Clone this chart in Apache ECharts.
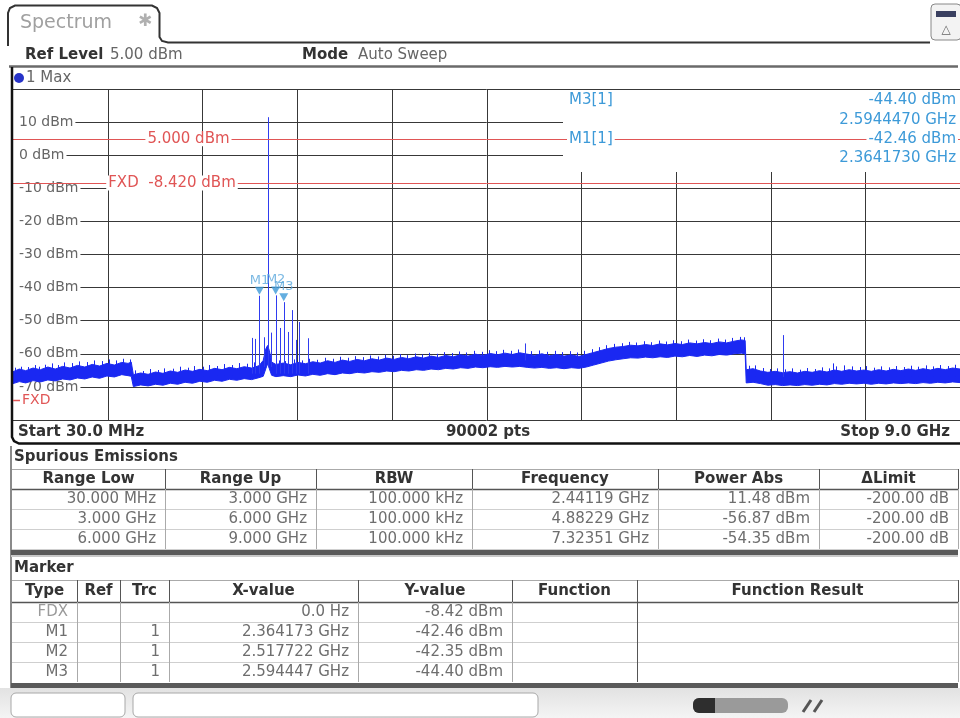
<!DOCTYPE html>
<html><head><meta charset="utf-8">
<script src="https://cdn.jsdelivr.net/npm/echarts@6/dist/echarts.min.js"></script>
<style>html,body{margin:0;padding:0;background:#fff}#c{width:960px;height:718px}</style>
</head><body><div id="c"></div>
<script>
// ---------------- DATA ----------------
const startMHz = 30, stopMHz = 9000, sweepPoints = 90002;
const refLevelDbm = 5.00;
const yTicksDbm = [10, 0, -10, -20, -30, -40, -50, -60, -70];
const limitLevels = [5.0, -8.42];
const limitLabels = ['5.000 dBm', 'FXD  -8.420 dBm'];

// trace noise envelope (MHz, dBm)
const noiseFreq = [30,90,150,220,290,360,430,500,570,640,710,780,850,920,990,1060,1120,1150,1170,1240,1310,1380,1450,1520,1590,1660,1730,1800,1870,1940,2010,2080,2150,2220,2290,2360,2400,2425,2441,2458,2480,2520,2590,2660,2730,2800,2870,2940,3010,3080,3150,3220,3290,3360,3430,3500,3570,3640,3710,3780,3850,3920,3990,4060,4130,4200,4270,4340,4410,4480,4550,4620,4690,4760,4830,4900,4970,5040,5110,5180,5250,5320,5390,5460,5530,5600,5670,5740,5810,5880,5950,6020,6090,6160,6230,6300,6370,6440,6510,6580,6650,6720,6790,6860,6930,6965,6975,7040,7110,7180,7250,7320,7390,7460,7530,7600,7670,7740,7810,7880,7950,8020,8090,8160,8230,8300,8370,8440,8510,8580,8650,8720,8790,8860,8930,9000];
const noiseTop = [-65.4,-64.6,-65.1,-64.3,-64.8,-64.0,-64.6,-63.8,-64.3,-63.5,-64.0,-63.2,-63.7,-62.9,-63.4,-62.6,-62.9,-62.5,-66.3,-65.8,-66.2,-65.5,-65.9,-65.2,-65.6,-64.9,-65.3,-64.7,-65.1,-64.4,-64.8,-64.1,-64.5,-63.9,-64.3,-63.6,-62.0,-58.5,-57.5,-59.0,-62.5,-63.2,-62.8,-63.3,-62.6,-63.0,-62.4,-62.8,-62.1,-62.6,-61.9,-62.3,-61.7,-62.1,-61.5,-61.9,-61.3,-61.7,-61.1,-61.5,-60.9,-61.3,-60.7,-61.1,-60.5,-60.9,-60.3,-60.7,-60.1,-60.5,-59.9,-60.3,-59.8,-60.2,-59.7,-60.1,-60.5,-60.0,-60.6,-60.2,-60.7,-60.3,-60.8,-60.2,-59.6,-59.0,-58.4,-58.0,-57.8,-57.4,-57.6,-57.2,-57.5,-57.0,-57.3,-56.9,-57.2,-56.7,-57.0,-56.6,-56.9,-56.4,-56.7,-56.2,-55.8,-56.0,-64.8,-64.5,-65.2,-65.6,-65.3,-65.7,-65.4,-65.8,-65.3,-65.6,-65.1,-65.5,-64.9,-65.3,-64.8,-65.2,-64.9,-65.3,-64.8,-65.2,-64.7,-65.1,-64.6,-65.0,-64.5,-64.9,-64.4,-64.8,-64.3,-64.6];
const noiseBottom = [-69.0,-68.4,-68.8,-68.1,-68.5,-67.9,-68.2,-67.6,-67.9,-67.3,-67.6,-67.0,-67.4,-66.7,-67.0,-66.3,-66.6,-66.8,-69.9,-69.4,-69.7,-69.2,-69.5,-68.9,-69.2,-68.6,-68.9,-68.3,-68.6,-68.0,-68.3,-67.7,-68.0,-67.5,-67.8,-67.2,-66.8,-64.5,-63.0,-64.5,-66.5,-66.9,-66.6,-66.9,-66.4,-66.7,-66.2,-66.5,-66.0,-66.3,-65.8,-66.0,-65.6,-65.8,-65.4,-65.6,-65.2,-65.4,-65.0,-65.2,-64.8,-65.0,-64.6,-64.8,-64.4,-64.6,-64.2,-64.4,-64.0,-64.2,-63.9,-64.1,-63.8,-64.0,-63.8,-64.1,-64.3,-64.1,-64.4,-64.2,-64.5,-64.2,-64.4,-64.0,-63.4,-62.8,-62.2,-61.8,-61.5,-61.2,-61.3,-61.0,-61.2,-60.9,-61.1,-60.7,-60.9,-60.5,-60.8,-60.4,-60.6,-60.2,-60.4,-60.0,-59.8,-60.0,-68.8,-68.6,-69.0,-69.5,-69.3,-69.6,-69.4,-69.6,-69.3,-69.5,-69.2,-69.4,-69.0,-69.2,-68.9,-69.1,-68.9,-69.2,-68.9,-69.1,-68.8,-69.0,-68.8,-69.0,-68.7,-68.9,-68.6,-68.8,-68.5,-68.7];

// small noise spikes on the trace (MHz, top dBm, base dBm)
const fuzzFreq = [45,105,175,240,275,330,395,455,515,590,655,735,800,870,935,1010,1075,1140,
  1190,1265,1330,1400,1465,1545,1610,1690,1745,1825,1890,1960,2030,2105,2170,2245,2315,
  2545,2610,2690,2765,2835,2905,2990,3060,3125,3205,3270,3345,3415,3490,3555,3625,3700,3765,3840,3905,3975,4045,4115,4190,4255,4325,4395,4470,4540,4605,4675,4745,4815,
  4940,5010,5090,5160,5230,5305,5375,5440,
  5510,5585,5650,5725,5795,5865,5935,6005,6075,6145,6215,6285,6355,6425,6495,6565,6635,6705,6775,6845,6915,6955,
  7000,7060,7135,7205,7270,7345,7410,7485,7550,7625,7690,7760,7800,7830,7900,7975,8050,8110,8185,8250,8325,8395,8465,8535,8605,8675,8745,8815,8885,8955];
const fuzzTop = [-64.2,-63.9,-64.0,-63.4,-63.9,-63.3,-62.9,-63.4,-62.6,-62.8,-62.3,-62.5,-62.0,-62.2,-61.7,-62.0,-61.5,-61.7,
  -65.0,-65.2,-64.6,-64.9,-64.4,-64.5,-63.9,-64.2,-63.7,-63.9,-63.4,-63.7,-63.1,-63.4,-62.8,-63.0,-62.6,
  -62.0,-62.2,-61.7,-62.0,-61.5,-61.8,-61.2,-61.5,-60.9,-61.2,-60.7,-61.0,-60.5,-60.8,-60.3,-60.6,-60.1,-60.4,-59.9,-60.2,-59.7,-60.0,-59.5,-59.8,-59.3,-59.6,-59.1,-59.4,-58.9,-59.2,-58.8,-59.1,-58.7,
  -59.2,-59.0,-59.4,-59.1,-59.5,-59.2,-59.6,-59.1,
  -58.6,-58.0,-57.4,-57.0,-56.8,-56.4,-56.6,-56.2,-56.5,-56.0,-56.3,-55.9,-56.2,-55.7,-56.0,-55.6,-55.9,-55.4,-55.7,-55.2,-54.9,-55.0,
  -63.6,-63.5,-64.3,-64.6,-64.4,-64.7,-64.4,-64.8,-64.3,-64.6,-64.1,-64.4,-62.9,-63.8,-63.5,-63.8,-64.0,-63.7,-64.2,-63.8,-64.1,-63.7,-64.0,-63.6,-63.9,-63.5,-63.8,-63.4,-63.7,-63.3];
const fuzzBase = [-67,-67,-67,-66.5,-66.5,-66.5,-66.5,-66,-66,-66,-66,-65.5,-65.5,-65.5,-65,-65,-65,-65,
  -68.5,-68.5,-68,-68,-68,-67.5,-67.5,-67.5,-67,-67,-67,-66.5,-66.5,-66.5,-66,-66,-66,
  -65.5,-65.5,-65,-65,-65,-65,-64.5,-64.5,-64.5,-64.5,-64,-64,-64,-64,-63.5,-63.5,-63.5,-63.5,-63,-63,-63,-63,-62.5,-62.5,-62.5,-62.5,-62.5,-62,-62,-62,-62,-62,-62,
  -62.5,-62.5,-62.5,-62.5,-62.5,-62.5,-62.5,-62.5,
  -62,-61.5,-61,-60.5,-60,-60,-59.5,-59.5,-59.5,-59.5,-59.5,-59,-59,-59,-59,-59,-59,-58.5,-58.5,-58.5,-58.5,-58.5,
  -67,-67,-67,-67,-67,-67,-67,-67,-67,-67,-67,-67,-67,-67,-67,-67,-67,-67,-67,-67,-67,-67,-67,-67,-67,-67,-67,-67,-67,-67];

// discrete spurs / carrier (MHz, top dBm, base dBm)
const spurLineFreq = [2293,2322,2364.173,2403,2441.19,2478,2517.722,2558,2594.447,2636,2674,2714,2743,2828,4882.29,7323.51];
const spurLineTop  = [-55.2,-55.5,-42.46,-55.0,11.48,-53.6,-42.35,-52.2,-44.40,-53.4,-46.8,-55.8,-50.4,-55.3,-56.87,-54.35];
const spurLineBase = [-66,-66,-66,-64,-64,-64,-66,-66,-66,-66,-66,-66,-66,-66,-62,-67];

// markers
const markerNames = ['M1','M2','M3'];
const markerFreq  = [2364.173, 2517.722, 2594.447];
const markerLevel = [-42.46, -42.35, -44.40];

// spurious emissions table
const spurHeader = ['Range Low','Range Up','RBW','Frequency','Power Abs','\u0394Limit'];
const spurRangeLow = ['30.000 MHz','3.000 GHz','6.000 GHz'];
const spurRangeUp  = ['3.000 GHz','6.000 GHz','9.000 GHz'];
const spurRBW      = ['100.000 kHz','100.000 kHz','100.000 kHz'];
const spurFrequency= ['2.44119 GHz','4.88229 GHz','7.32351 GHz'];
const spurPowerAbs = ['11.48 dBm','-56.87 dBm','-54.35 dBm'];
const spurDeltaLim = ['-200.00 dB','-200.00 dB','-200.00 dB'];

// marker table
const mkHeader = ['Type','Ref','Trc','X-value','Y-value','Function','Function Result'];
const mkType = ['FDX','M1','M2','M3'];
const mkRef  = ['','','',''];
const mkTrc  = ['','1','1','1'];
const mkX    = ['0.0 Hz','2.364173 GHz','2.517722 GHz','2.594447 GHz'];
const mkY    = ['-8.42 dBm','-42.46 dBm','-42.35 dBm','-44.40 dBm'];

// ---------------- RENDER ----------------
const FONT = '"DejaVu Sans", Verdana, sans-serif';
const BLUE = '#1a28f2';
const RED = '#e05555';
const MBLUE = '#3d9ad8';
const GRID = '#383838';

function T(x, y, text, o) {
  o = o || {};
  const st = {text: text, fill: o.fill || '#666', font: (o.bold ? 'bold ' : '') + (o.size || 15) + 'px ' + FONT,
    align: o.align || 'left', textAlign: o.align || 'left', verticalAlign: 'middle', textVerticalAlign: 'middle'};
  if (o.bg) { st.backgroundColor = o.bg; st.padding = o.pad || [0, 2]; }
  return {type: 'text', x: x, y: y, z: o.z || 10, silent: true, style: st};
}
function L(x1, y1, x2, y2, stroke, w, z) {
  return {type: 'line', z: z || 10, silent: true, shape: {x1: x1, y1: y1, x2: x2, y2: y2}, style: {stroke: stroke, lineWidth: w || 1}};
}
function R(x, y, w, h, fill, o) {
  o = o || {};
  return {type: 'rect', z: o.z || 9, silent: true, shape: {x: x, y: y, width: w, height: h, r: o.r || 0},
    style: {fill: fill, stroke: o.stroke || null, lineWidth: o.lw || 1}};
}

const g = [];
// header tab
g.push({type: 'polyline', z: 10, silent: true, shape: {points: [[8,46],[8,13],[10,8],[15,5.5],[152,5.5],[157,8],[159.5,13],[159.5,37],[162,41],[168,42.5],[930,42.5]]},
  style: {stroke: '#333', lineWidth: 2, fill: null}});
g.push(T(20, 23, 'Spectrum', {size: 19, fill: '#a0a0a0'}));
g.push(T(138, 22, '\u2731', {size: 17, fill: '#b0b0b0'}));
g.push(R(931, 4, 30, 36, '#f3f3f3', {stroke: '#888', r: 4, z: 10}));
g.push(R(936, 11, 20, 6, '#3a4060', {z: 11}));
g.push(T(946, 30, '\u25B3', {size: 12, fill: '#666', align: 'center', z: 11}));
g.push(T(25, 55, 'Ref Level', {bold: true, fill: '#333'}));
g.push(T(110, 55, refLevelDbm.toFixed(2) + ' dBm', {fill: '#666'}));
g.push(T(302, 55, 'Mode', {bold: true, fill: '#333'}));
g.push(T(358, 55, 'Auto Sweep', {fill: '#666'}));
g.push(L(9, 66.5, 958, 66.5, '#6a6a6a', 2.5));
g.push({type: 'circle', z: 10, silent: true, shape: {cx: 19, cy: 78, r: 5}, style: {fill: '#2733c8'}});
g.push(T(26, 78, '1 Max', {fill: '#666'}));
// plot frame
g.push({type: 'polyline', z: 10, silent: true, shape: {points: [[12,67],[12,437],[14,441],[19,443.5],[960,443.5]]},
  style: {stroke: '#111', lineWidth: 2.5, fill: null}});
g.push(T(18, 432, 'Start ' + startMHz.toFixed(1) + ' MHz', {bold: true, fill: '#333'}));
g.push(T(488, 432, String(sweepPoints) + ' pts', {bold: true, fill: '#333', align: 'center'}));
g.push(T(950, 432, 'Stop ' + (stopMHz / 1000).toFixed(1) + ' GHz', {bold: true, fill: '#333', align: 'right'}));
// FXD left marker
g.push(L(13, 400.5, 20, 400.5, RED, 1.5));
g.push(T(22, 400, 'FXD', {fill: RED, size: 14}));
// marker info box
g.push(R(563, 90, 397, 82, '#fff', {z: 1}));
g.push(T(567, 100, 'M3[1]', {fill: MBLUE, bg: '#fff'}));
g.push(T(958, 100, markerLevel[2].toFixed(2) + ' dBm', {fill: MBLUE, align: 'right', bg: '#fff'}));
g.push(T(958, 120, (markerFreq[2] / 1000).toFixed(7) + ' GHz', {fill: MBLUE, align: 'right', bg: '#fff'}));
g.push(T(567, 139, 'M1[1]', {fill: MBLUE, bg: '#fff'}));
g.push(T(958, 139, markerLevel[0].toFixed(2) + ' dBm', {fill: MBLUE, align: 'right', bg: '#fff'}));
g.push(T(958, 158, (markerFreq[0] / 1000).toFixed(7) + ' GHz', {fill: MBLUE, align: 'right', bg: '#fff'}));

// spurious table
g.push(L(11, 446, 11, 688, '#8a8a8a', 2));
g.push(T(14, 457, 'Spurious Emissions', {bold: true, fill: '#333'}));
const sc = [12, 165, 316, 472, 658, 819, 958];
const sHead = 469, sRow = 20;
g.push(L(12, sHead + 0.5, 958, sHead + 0.5, '#aaa', 1));
g.push(L(12, sHead + sRow + 0.5, 958, sHead + sRow + 0.5, '#555', 1.5));
for (let r = 1; r <= 3; r++) g.push(L(12, sHead + sRow * (r + 1) + 0.5, 958, sHead + sRow * (r + 1) + 0.5, '#cfcfcf', 1));
for (let c = 1; c < sc.length; c++) {
  g.push(L(sc[c] + 0.5, sHead, sc[c] + 0.5, sHead + sRow, '#555', 1));
  g.push(L(sc[c] + 0.5, sHead + sRow, sc[c] + 0.5, sHead + sRow * 4, '#aaa', 1));
}
spurHeader.forEach((h, c) => g.push(T((sc[c] + sc[c + 1]) / 2, sHead + 10.5, h, {bold: true, fill: '#333', align: 'center'})));
const spurCols = [spurRangeLow, spurRangeUp, spurRBW, spurFrequency, spurPowerAbs, spurDeltaLim];
spurCols.forEach((col, c) => col.forEach((v, r) => g.push(T(sc[c + 1] - 9, sHead + sRow * (r + 1) + 10.5, v, {fill: '#6e6e6e', align: 'right'}))));
g.push(R(11, 550, 947, 5, '#5a5a5a', {z: 10}));
g.push(R(11, 555, 947, 2, '#c8c8c8', {z: 10}));

// marker table
g.push(T(14, 568, 'Marker', {bold: true, fill: '#333'}));
const mc = [12, 77, 120, 169, 358, 512, 637, 958];
const mHead = 580, mRowH = 20;
g.push(L(12, mHead + 0.5, 958, mHead + 0.5, '#aaa', 1));
g.push(L(12, mHead + 22 + 0.5, 958, mHead + 22 + 0.5, '#555', 1.5));
for (let r = 1; r <= 3; r++) g.push(L(12, mHead + 22 + mRowH * r + 0.5, 958, mHead + 22 + mRowH * r + 0.5, '#cfcfcf', 1));
for (let c = 1; c < mc.length; c++) {
  g.push(L(mc[c] + 0.5, mHead, mc[c] + 0.5, mHead + 22, '#555', 1));
  g.push(L(mc[c] + 0.5, mHead + 22, mc[c] + 0.5, mHead + 22 + mRowH * 4, c === 6 ? '#555' : '#aaa', 1));
}
mkHeader.forEach((h, c) => g.push(T((mc[c] + mc[c + 1]) / 2, mHead + 11.5, h, {bold: true, fill: '#333', align: 'center'})));
const mkCols = [mkType, mkRef, mkTrc, mkX, mkY];
mkCols.forEach((col, c) => col.forEach((v, r) => { if (v) g.push(T(mc[c + 1] - 9, mHead + 22 + mRowH * r + 10.5, v, {fill: r === 0 && c === 0 ? '#9a9a9a' : '#6e6e6e', align: 'right'})); }));
g.push(R(11, 683, 947, 5, '#5a5a5a', {z: 10}));

// status bar
g.push({type: 'rect', z: 8, silent: true, shape: {x: 0, y: 688, width: 960, height: 30},
  style: {fill: new echarts.graphic.LinearGradient(0, 0, 0, 1, [{offset: 0, color: '#e2e2e2'}, {offset: 1, color: '#f4f4f4'}])}});
g.push(R(11, 693, 114, 24, '#fff', {stroke: '#a8a8a8', r: 5, z: 10}));
g.push(R(133, 693, 405, 24, '#fff', {stroke: '#a8a8a8', r: 5, z: 10}));
g.push(R(693, 698, 95, 15, '#9a9a9a', {r: 6, z: 10}));
g.push(R(693, 698, 22, 15, '#2e2e2e', {r: [6, 0, 0, 6], z: 11}));
g.push(L(803, 712, 811, 700, '#555', 3));
g.push(L(814, 712, 822, 700, '#555', 3));

const gridFreqs = [];
for (let i = 1; i < 10; i++) gridFreqs.push(startMHz + i * (stopMHz - startMHz) / 10);

const px = v => Math.round(v) + 0.5;

const option = {
  animation: false,
  backgroundColor: '#fff',
  grid: {left: 13, top: 89, width: 950, height: 331, containLabel: false},
  xAxis: {type: 'value', min: startMHz, max: stopMHz, axisLine: {show: false}, axisTick: {show: false},
    axisLabel: {show: false}, splitLine: {show: false}},
  yAxis: {type: 'value', min: -80, max: 20, interval: 10,
    axisLine: {show: false}, axisTick: {show: false},
    axisLabel: {inside: true, margin: 0, showMinLabel: false, showMaxLabel: false,
      formatter: v => yTicksDbm.indexOf(v) >= 0 ? v + ' dBm' : '',
      color: '#666', fontSize: 14, fontFamily: FONT, backgroundColor: '#fff', padding: [1, 2, 1, 6]},
    splitLine: {show: true, lineStyle: {color: GRID, width: 1}}},
  graphic: {elements: g},
  series: [
    { // vertical grid
      type: 'custom', z: 0, silent: true, data: gridFreqs.map(f => [f, 20]),
      renderItem: (p, api) => {
        const a = api.coord([api.value(0), 20]), b = api.coord([api.value(0), -80]);
        return {type: 'line', shape: {x1: px(a[0]), y1: a[1], x2: px(b[0]), y2: b[1]}, style: {stroke: GRID, lineWidth: 1}};
      }
    },
    { // noise band
      type: 'custom', z: 2, silent: true, data: [[startMHz, 0]],
      renderItem: (p, api) => {
        const pts = [];
        for (let i = 0; i < noiseFreq.length; i++) pts.push(api.coord([noiseFreq[i], noiseTop[i]]));
        for (let i = noiseFreq.length - 1; i >= 0; i--) pts.push(api.coord([noiseFreq[i], noiseBottom[i]]));
        return {type: 'polygon', shape: {points: pts}, style: {fill: BLUE, stroke: BLUE, lineWidth: 1}};
      }
    },
    { // noise spikes
      type: 'custom', z: 2, silent: true, data: fuzzFreq.map((f, i) => [f, fuzzTop[i], fuzzBase[i]]),
      renderItem: (p, api) => {
        const a = api.coord([api.value(0), api.value(1)]), b = api.coord([api.value(0), api.value(2)]);
        return {type: 'line', shape: {x1: px(a[0]), y1: a[1], x2: px(b[0]), y2: b[1]}, style: {stroke: BLUE, lineWidth: 1}};
      }
    },
    { // discrete spurs
      type: 'custom', z: 2, silent: true, data: spurLineFreq.map((f, i) => [f, spurLineTop[i], spurLineBase[i]]),
      renderItem: (p, api) => {
        const a = api.coord([api.value(0), api.value(1)]), b = api.coord([api.value(0), api.value(2)]);
        return {type: 'line', shape: {x1: px(a[0]), y1: a[1], x2: px(b[0]), y2: b[1]}, style: {stroke: '#2f3cf0', lineWidth: 1}};
      }
    },
    { // limit / display lines
      type: 'custom', z: 3, silent: true, data: limitLevels.map(v => [startMHz, v]),
      renderItem: (p, api) => {
        const a = api.coord([startMHz, api.value(1)]), b = api.coord([stopMHz, api.value(1)]);
        return {type: 'line', shape: {x1: a[0], y1: px(a[1]), x2: b[0], y2: px(b[1])}, style: {stroke: RED, lineWidth: 1}};
      }
    },
    { // limit labels
      type: 'custom', z: 4, silent: true, data: [[1692, limitLevels[0], 0], [1536, limitLevels[1], 1]],
      renderItem: (p, api) => {
        const a = api.coord([api.value(0), api.value(1)]);
        return {type: 'text', x: a[0], y: a[1], style: {text: limitLabels[api.value(2)], fill: RED, font: '15px ' + FONT,
          align: 'center', verticalAlign: 'middle', backgroundColor: '#fff', padding: [0, 2]}};
      }
    },
    { // markers
      type: 'scatter', z: 5, silent: true,
      data: markerNames.map((n, i) => ({name: n, value: [markerFreq[i], markerLevel[i]]})),
      symbol: 'triangle', symbolRotate: 180, symbolSize: [9, 8], symbolOffset: [0, -5],
      itemStyle: {color: MBLUE},
      label: {show: true, position: 'top', distance: 0, formatter: p => p.name, color: '#5aa8dc', fontSize: 13, fontFamily: FONT}
    }
  ]
};

const chart = echarts.init(document.getElementById('c'), null, {renderer: 'canvas', width: 960, height: 718});
chart.setOption(option);
</script>
</body></html>
